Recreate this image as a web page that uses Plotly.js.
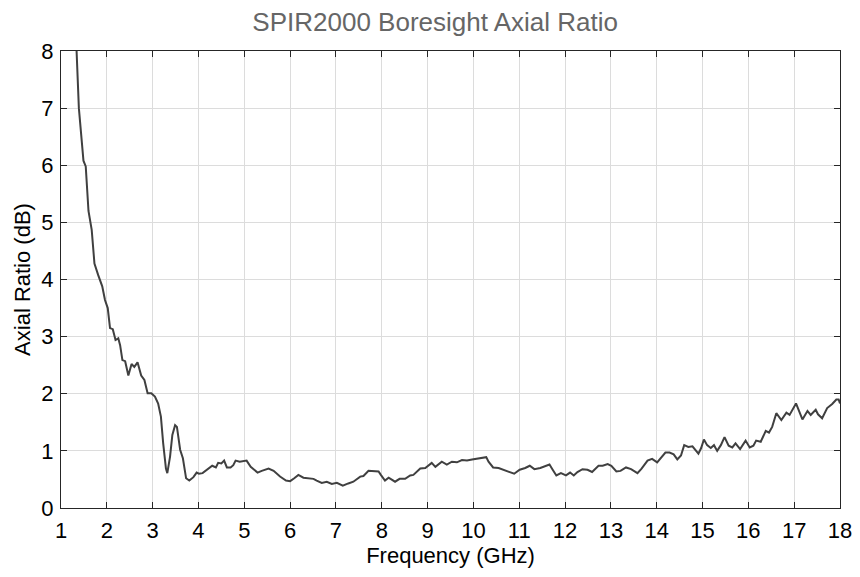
<!DOCTYPE html>
<html>
<head>
<meta charset="utf-8">
<script src="https://cdn.plot.ly/plotly-3.0.1.min.js"></script>
<style>html,body{margin:0;padding:0;background:#fff;}#chart{width:860px;height:577px;}</style>
</head>
<body>
<div id="chart"></div>
<script>
const freqGHz = [1.30,1.34,1.39,1.44,1.49,1.54,1.60,1.67,1.73,1.81,1.90,1.96,2.02,2.07,2.13,2.19,2.25,2.29,2.34,2.40,2.47,2.54,2.60,2.67,2.75,2.82,2.89,2.97,3.05,3.12,3.18,3.23,3.29,3.32,3.38,3.43,3.49,3.53,3.60,3.66,3.73,3.80,3.89,3.96,4.01,4.09,4.18,4.24,4.30,4.38,4.43,4.50,4.56,4.62,4.70,4.76,4.81,4.90,5.05,5.14,5.29,5.38,5.53,5.64,5.78,5.91,6.00,6.09,6.18,6.29,6.40,6.51,6.58,6.69,6.80,6.91,7.02,7.15,7.27,7.38,7.53,7.60,7.71,7.82,7.93,7.98,8.07,8.15,8.29,8.39,8.51,8.62,8.69,8.84,8.95,9.09,9.17,9.31,9.42,9.53,9.64,9.75,9.86,9.97,10.11,10.28,10.33,10.43,10.55,10.66,10.77,10.89,11.01,11.13,11.23,11.33,11.46,11.57,11.66,11.73,11.81,11.91,12.02,12.11,12.19,12.27,12.38,12.49,12.59,12.73,12.82,12.93,13.01,13.12,13.21,13.33,13.44,13.58,13.67,13.80,13.90,14.01,14.10,14.19,14.28,14.37,14.45,14.53,14.60,14.69,14.78,14.91,14.97,15.03,15.10,15.18,15.25,15.32,15.40,15.48,15.57,15.65,15.72,15.82,15.94,16.03,16.11,16.17,16.27,16.32,16.38,16.45,16.52,16.61,16.72,16.83,16.90,17.04,17.11,17.18,17.29,17.36,17.47,17.52,17.61,17.72,17.83,17.92,17.97,18.00];
const axialRatioDB = [8.6,8.0,7.0,6.5,6.08,5.98,5.2,4.87,4.28,4.08,3.88,3.64,3.50,3.15,3.13,2.94,2.97,2.85,2.59,2.57,2.32,2.52,2.47,2.55,2.32,2.24,2.01,2.01,1.95,1.83,1.60,1.13,0.69,0.61,0.90,1.28,1.45,1.42,1.02,0.87,0.52,0.48,0.54,0.62,0.60,0.61,0.67,0.71,0.74,0.71,0.79,0.78,0.83,0.71,0.71,0.75,0.83,0.81,0.83,0.72,0.62,0.65,0.69,0.65,0.55,0.48,0.47,0.52,0.58,0.53,0.52,0.51,0.48,0.44,0.46,0.42,0.44,0.39,0.43,0.46,0.55,0.56,0.65,0.64,0.64,0.58,0.48,0.53,0.46,0.51,0.51,0.57,0.58,0.69,0.70,0.79,0.72,0.81,0.76,0.81,0.80,0.84,0.83,0.85,0.87,0.89,0.81,0.71,0.70,0.67,0.64,0.60,0.67,0.70,0.74,0.68,0.70,0.73,0.76,0.67,0.57,0.61,0.57,0.62,0.57,0.63,0.68,0.67,0.63,0.74,0.74,0.77,0.74,0.64,0.65,0.71,0.68,0.61,0.69,0.83,0.86,0.80,0.88,0.97,0.97,0.94,0.85,0.92,1.10,1.07,1.08,0.95,1.05,1.20,1.10,1.05,1.10,1.00,1.10,1.24,1.09,1.06,1.13,1.03,1.18,1.06,1.09,1.18,1.16,1.24,1.35,1.32,1.42,1.66,1.54,1.67,1.63,1.83,1.69,1.55,1.70,1.63,1.72,1.64,1.57,1.75,1.82,1.90,1.90,1.83];
const xTicks = [1,2,3,4,5,6,7,8,9,10,11,12,13,14,15,16,17,18];
const yTicks = [0,1,2,3,4,5,6,7,8];

const font = 'Liberation Sans, Arial, Helvetica, sans-serif';
const axisCommon = {
  showline: true, linecolor: '#262626', linewidth: 1, mirror: 'ticks',
  ticks: 'inside', ticklen: 6, tickcolor: '#262626', tickwidth: 1,
  showgrid: true, gridcolor: '#dcdcdc', gridwidth: 1, zeroline: false,
  tickfont: {family: font, size: 22, color: '#000'}
};
Plotly.newPlot('chart', [{
  x: freqGHz, y: axialRatioDB, type: 'scatter', mode: 'lines',
  line: {color: '#404040', width: 2}, hoverinfo: 'skip'
}], {
  width: 860, height: 577,
  margin: {l: 61, r: 20, t: 51, b: 69},
  paper_bgcolor: '#fff', plot_bgcolor: '#fff',
  showlegend: false,
  title: {text: 'SPIR2000 Boresight Axial Ratio', font: {family: font, size: 26, color: '#666'}, x: 0.506, xanchor: 'center', y: 0.962, yanchor: 'middle'},
  xaxis: Object.assign({}, axisCommon, {range: [1, 18], tickvals: xTicks, ticktext: xTicks.map(String),
    ticklabelstandoff: 3,
    title: {text: 'Frequency (GHz)', font: {family: font, size: 22, color: '#000'}, standoff: 0}}),
  yaxis: Object.assign({}, axisCommon, {range: [0, 8], tickvals: yTicks, ticktext: yTicks.map(String),
    ticklabelstandoff: 2,
    title: {text: 'Axial Ratio (dB)', font: {family: font, size: 22, color: '#000'}, standoff: 4}})
}, {displayModeBar: false, staticPlot: true});
</script>
</body>
</html>
